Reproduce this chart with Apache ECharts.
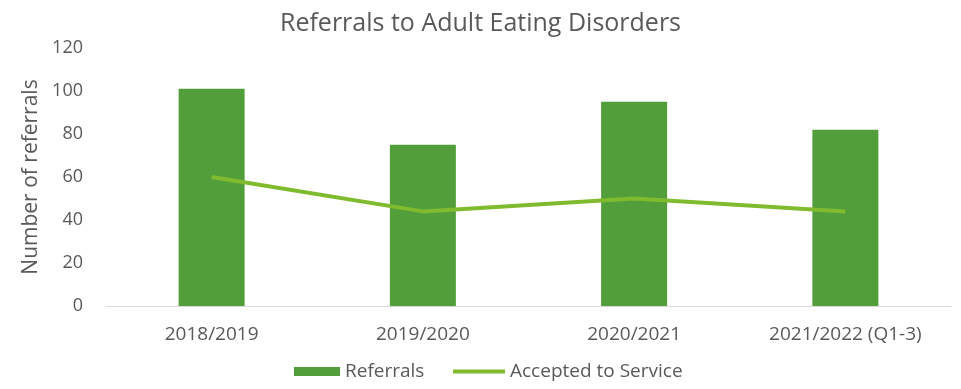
<!DOCTYPE html>
<html>
<head>
<meta charset="utf-8">
<script src="https://cdn.jsdelivr.net/npm/echarts@6/dist/echarts.min.js"></script>
<style>
  html, body { margin: 0; padding: 0; background: #ffffff; }
  #chart { width: 961px; height: 389px; }
</style>
</head>
<body>
<div id="chart"></div>
<script>
// Yearly referral counts for the adult eating disorders service
const categories = ['2018/2019', '2019/2020', '2020/2021', '2021/2022 (Q1-3)'];
const referrals = [101, 75, 95, 82];
const accepted = [60, 44, 50, 44];
const yTicks = [0, 20, 40, 60, 80, 100, 120];

const FONT = '"Open Sans", sans-serif';
const TEXT = '#595959';
const BAR_GREEN = '#519e3a';
const LINE_GREEN = '#80ba2e';

const legendText = { fontFamily: FONT, fontSize: 19, color: TEXT };

const chart = echarts.init(document.getElementById('chart'), null, { renderer: 'canvas' });
chart.setOption({
  animation: false,
  backgroundColor: '#ffffff',
  title: {
    text: 'Referrals to Adult Eating Disorders',
    left: 'center',
    top: 11,
    padding: 0,
    textStyle: { fontFamily: FONT, fontSize: 25, fontWeight: 'normal', color: TEXT }
  },
  // Two legend blocks so the bar swatch and the line swatch can have different heights
  legend: [
    {
      left: 294,
      top: 362,
      padding: 0,
      itemWidth: 46,
      itemHeight: 9,
      textStyle: legendText,
      data: [{ name: 'Referrals', icon: 'rect' }]
    },
    {
      left: 453,
      top: 362,
      padding: 0,
      itemWidth: 52,
      itemHeight: 4,
      itemGap: 3,
      textStyle: legendText,
      data: [{ name: 'Accepted to Service', icon: 'rect' }]
    }
  ],
  grid: { left: 106, right: 10, top: 48, bottom: 83 },
  xAxis: {
    type: 'category',
    data: categories,
    axisTick: { show: false },
    axisLine: { lineStyle: { color: '#d9d9d9', width: 1 } },
    axisLabel: { fontFamily: FONT, fontSize: 19, color: TEXT, margin: 19 }
  },
  yAxis: {
    type: 'value',
    min: yTicks[0],
    max: yTicks[yTicks.length - 1],
    interval: 20,
    name: 'Number of referrals',
    nameLocation: 'middle',
    nameGap: 56,
    nameRotate: 90,
    nameTextStyle: { fontFamily: FONT, fontSize: 21, color: TEXT },
    axisLine: { show: false },
    axisTick: { show: false },
    splitLine: { show: false },
    axisLabel: { fontFamily: FONT, fontSize: 18, color: TEXT, margin: 23 }
  },
  series: [
    {
      name: 'Referrals',
      type: 'bar',
      data: referrals,
      barWidth: 66,
      itemStyle: { color: BAR_GREEN }
    },
    {
      name: 'Accepted to Service',
      type: 'line',
      data: accepted,
      symbol: 'none',
      lineStyle: { color: LINE_GREEN, width: 4 },
      itemStyle: { color: LINE_GREEN }
    }
  ]
});
</script>
</body>
</html>
